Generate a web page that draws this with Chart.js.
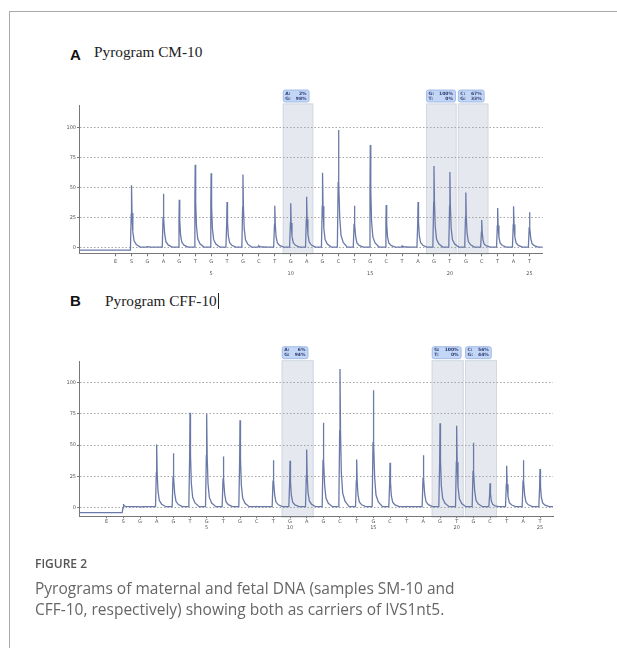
<!DOCTYPE html>
<html><head><meta charset="utf-8">
<script src="https://cdn.jsdelivr.net/npm/chart.js@4.4.1/dist/chart.umd.min.js"></script>
<style>
html,body{margin:0;padding:0;background:#fff;}
body{width:617px;height:648px;overflow:hidden;position:relative;}
#frame{position:absolute;left:9px;top:11px;width:620px;height:650px;border-left:1px solid #aaa;border-top:1px solid #aaa;}
canvas{position:absolute;left:0;top:0;}
.panel{position:absolute;font-family:"Liberation Sans",Arial,sans-serif;font-weight:bold;font-size:15px;line-height:16px;color:#111;}
.ttl{position:absolute;font-family:"Liberation Serif","Times New Roman",serif;font-size:15.3px;line-height:16px;color:#222;white-space:nowrap;}
.cur{display:inline-block;width:1px;height:16px;background:#222;vertical-align:-3px;margin-left:1px;}
.figlab{position:absolute;left:35px;top:557px;font-family:"Open Sans",sans-serif;font-weight:600;font-size:12px;line-height:14px;color:#555;}
.cap{position:absolute;left:35px;top:578px;font-family:"Open Sans",sans-serif;font-size:15.5px;line-height:21px;color:#666;white-space:nowrap;}
</style></head>
<body>
<div id="frame"></div>
<div class="panel" style="left:70px;top:47px;">A</div>
<div class="ttl" style="left:94px;top:44px;">Pyrogram CM-10</div>
<div class="panel" style="left:70px;top:293px;">B</div>
<div class="ttl" style="left:105px;top:293px;">Pyrogram CFF-10<span class="cur"></span></div>
<canvas id="cA" width="617" height="648"></canvas>
<canvas id="cB" width="617" height="648"></canvas>
<div class="figlab">FIGURE 2</div>
<div class="cap">Pyrograms of maternal and fetal DNA (samples SM-10 and<br>CFF-10, respectively) showing both as carriers of IVS1nt5.</div>
<script>
// ---- data ----
const dispensationLetters = ['E','S','G','A','G','T','G','T','G','C','T','G','A','G','C','T','G','C','T','A','G','T','G','C','T','A','T'];
const dispensationPositions = [-1,0,1,2,3,4,5,6,7,8,9,10,11,12,13,14,15,16,17,18,19,20,21,22,23,24,25];
const numberedPositions = [5,10,15,20,25];
const yTicks = [0,25,50,75,100];
// peak heights at positions S(0), 1..25
const peaksCM10  = [52,1,45,40,69,62,38,61,1.5,35,37,42.5,62.5,98,35,85.5,35.5,1.5,38,68,63,46,23,33,34.5,29.5];
const peaksCFF10 = [3,0.5,50.5,43.5,76,75,41,70,1,38,37.5,46.5,68,111,38.5,94,36,1,42,67.5,65.5,52,19.5,33.5,38,31];
// baseline level before / after substrate
const baselineCM10  = [-2, 0.5];
const baselineCFF10 = [-4, 0.8];
// variant regions (first dispensation of each pair) and their quantification labels
const variantStarts = [10,19,21];
const variantLabelsCM10  = [['A: 2%','G: 98%'],['G: 100%','T: 0%'],['C: 67%','G: 33%']];
const variantLabelsCFF10 = [['A: 6%','G: 94%'],['G: 100%','T: 0%'],['C: 56%','G: 44%']];

Chart.defaults.font.family = '"DejaVu Sans", sans-serif';

function buildTrace(peaks, base, xmin, xmax){
  const pts = [{x:xmin, y:base[0]}];
  peaks.forEach((h, i) => {
    const b0 = i === 0 ? base[0] : base[1];
    const b = base[1];
    pts.push({x:i-0.07,y:b0},{x:i-0.02,y:b0+(h-b0)*0.55},{x:i,y:h},
             {x:i+0.03,y:b+(h-b)*0.55},{x:i+0.08,y:b+(h-b)*0.25},{x:i+0.16,y:b+(h-b)*0.1},
             {x:i+0.3,y:b+(h-b)*0.04},{x:i+0.55,y:b});
  });
  pts.push({x:xmax, y:base[1]});
  return pts;
}

const boxPlugin = {
  id:'variantBoxes',
  beforeDraw(chart, args, opts){
    const {ctx, chartArea, scales:{x}} = chart;
    ctx.save();
    variantStarts.forEach(s => {
      const l = x.getPixelForValue(s-0.5), r = x.getPixelForValue(s+1.42);
      const t = chartArea.top-1.5;
      ctx.fillStyle = '#e5e9ef';
      ctx.fillRect(l, t, r-l, chartArea.bottom-t);
      ctx.strokeStyle = '#d3d9e1'; ctx.lineWidth = 1;
      ctx.strokeRect(l+0.5, t+0.5, r-l-1, chartArea.bottom-t);
    });
    ctx.restore();
  },
  afterDraw(chart, args, opts){
    const {ctx, chartArea, scales:{x}} = chart;
    ctx.save();
    ctx.font = 'bold 4.5px "DejaVu Sans"';
    opts.labels.forEach((lines, k) => {
      const l = x.getPixelForValue(variantStarts[k]-0.5)+0.5;
      const tw = Math.max(...lines.map(s => ctx.measureText(s).width));
      const w = Math.max(21.5, tw+8);
      const h = 12, t = chartArea.top-1.5-1.5-h;
      ctx.fillStyle = '#c4d6f6'; ctx.strokeStyle = '#93b0e4'; ctx.lineWidth = 0.8;
      ctx.beginPath(); ctx.roundRect(l, t, w, h, 2); ctx.fill(); ctx.stroke();
      ctx.fillStyle = '#2a3d70'; ctx.textBaseline = 'middle'; ctx.textAlign = 'left';
      lines.forEach((s, j) => {
        const [a, b] = s.split(' ');
        ctx.fillText(a, l+2, t+3.5+j*5);
        ctx.textAlign = 'right';
        ctx.fillText(b, l+w-2.5, t+3.5+j*5);
        ctx.textAlign = 'left';
      });
    });
    ctx.restore();
  }
};

function makeChart(id, peaks, base, labels, cfg){
  const trace = buildTrace(peaks, base, cfg.xmin, cfg.xmax);
  return new Chart(document.getElementById(id), {
    type:'line',
    data:{datasets:[{data:trace, borderColor:'#6a7aa8', borderWidth:1.3, pointRadius:0, tension:0, fill:false}]},
    options:{
      responsive:false, animation:false, events:[],
      layout:{padding:{left:cfg.left-cfg.yW, top:cfg.top, right:617-cfg.right, bottom:648-cfg.bottom-cfg.xH}},
      plugins:{legend:{display:false}, tooltip:{enabled:false}, variantBoxes:{labels}},
      scales:{
        x:{type:'linear', bounds:'data', min:cfg.xmin, max:cfg.xmax,
           afterBuildTicks:s => { s.ticks = dispensationPositions.map(v => ({value:v})); },
           afterFit:s => { s.height = cfg.xH; },
           ticks:{autoSkip:false, maxRotation:0, minRotation:0, color:'#555', padding:0,
                  font:{size:5, lineHeight:cfg.lh},
                  callback:(v) => {
                    const idx = dispensationPositions.indexOf(v);
                    const letter = dispensationLetters[idx];
                    return numberedPositions.includes(v) ? [letter, String(v)] : letter;
                  }},
           grid:{drawOnChartArea:false, tickLength:cfg.tl, color:'#777', tickColor:'#777'},
           border:{color:'#777', width:1}},
        y:{type:'linear', bounds:'data', min:cfg.ymin, max:cfg.ymax,
           afterBuildTicks:s => { s.ticks = yTicks.map(v => ({value:v})); },
           afterFit:s => { s.width = cfg.yW; },
           ticks:{color:'#555', padding:1, font:{size:5}},
           grid:{color:'#a5a5a5', lineWidth:1, tickLength:2, tickColor:'#777'},
           border:{color:'#777', width:1, dash:[1.5,2]}}
      }
    },
    plugins:[boxPlugin]
  });
}

makeChart('cA', peaksCM10, baselineCM10, variantLabelsCM10,
  {left:79, right:542.7, top:105, bottom:253.3, yW:20, xH:30, xmin:-3.3, xmax:25.83, ymin:-4.7, ymax:118.9, lh:2.26, tl:3});
makeChart('cB', peaksCFF10, baselineCFF10, variantLabelsCFF10,
  {left:79, right:553, top:361.7, bottom:516.7, yW:20, xH:30, xmin:-2.66, xmax:25.78, ymin:-7.2, ymax:116.8, lh:1.3, tl:1.5});
</script>
</body></html>
